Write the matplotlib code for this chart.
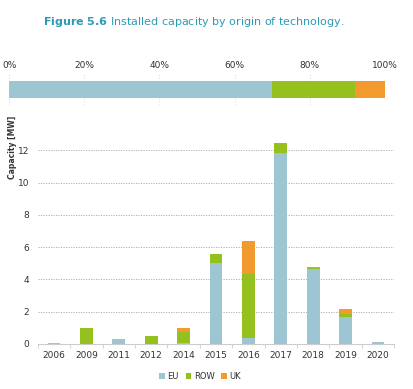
import numpy as np
import matplotlib.pyplot as plt

# installed capacity per year and origin (MW)
years = ["2006", "2009", "2011", "2012", "2014", "2015", "2016", "2017", "2018", "2019", "2020"]
eu = [0.05, 0.0, 0.3, 0.0, 0.05, 5.0, 0.35, 11.8, 4.65, 1.7, 0.15]
row = [0.0, 1.0, 0.0, 0.5, 0.7, 0.6, 4.0, 0.65, 0.05, 0.15, 0.0]
uk = [0.0, 0.0, 0.0, 0.0, 0.25, 0.0, 2.05, 0.0, 0.05, 0.3, 0.0]

# share of total by origin (%)
share_labels = ["EU", "ROW", "UK"]
share_values = [70, 22, 8]

colors = {"EU": "#9dc5d2", "ROW": "#95c11f", "UK": "#f39a2e"}
text_col = "#333333"

fig = plt.figure(figsize=(4.13, 3.89), dpi=100)

fig.text(0.47, 0.943, r"$\bf{Figure\ 5.6}$ Installed capacity by origin of technology.",
         ha="center", va="center", fontsize=8, color="#2e9bb5")

# top share bar
ax1 = fig.add_axes([0.022, 0.73, 0.91, 0.08])
left = 0
for lab, val in zip(share_labels, share_values):
    ax1.barh(0, val, left=left, height=0.55, color=colors[lab])
    left += val
ax1.set_xlim(0, 100)
ax1.set_ylim(-0.5, 0.5)
ax1.set_xticks([0, 20, 40, 60, 80, 100])
ax1.set_xticklabels(["0%", "20%", "40%", "60%", "80%", "100%"])
ax1.xaxis.tick_top()
ax1.tick_params(axis="x", length=0, labelsize=6.5, colors=text_col, pad=3)
ax1.set_yticks([])
for s in ax1.spines.values():
    s.set_visible(False)
ax1.grid(axis="x", color="#dddddd", linestyle=":", linewidth=0.8)
ax1.set_axisbelow(True)

# bottom stacked bars
ax = fig.add_axes([0.0915, 0.1157, 0.863, 0.581])
x = np.arange(len(years))
w = 0.4
eu_a = np.array(eu)
row_a = np.array(row)
uk_a = np.array(uk)
ax.bar(x, eu_a, w, color=colors["EU"], label="EU", zorder=3)
ax.bar(x, row_a, w, bottom=eu_a, color=colors["ROW"], label="ROW", zorder=3)
ax.bar(x, uk_a, w, bottom=eu_a + row_a, color=colors["UK"], label="UK", zorder=3)

ax.set_xlim(-0.5, len(years) - 0.5)
ax.set_ylim(0, 14)
ax.set_yticks([0, 2, 4, 6, 8, 10, 12])
ax.set_xticks(x)
ax.set_xticklabels(years)
ax.set_xticks(np.arange(-0.5, len(years)), minor=True)
ax.tick_params(axis="x", which="major", length=0, labelsize=6.5, colors=text_col, pad=5)
ax.tick_params(axis="x", which="minor", length=3, color="#cccccc")
ax.tick_params(axis="y", length=0, labelsize=6.5, colors=text_col, pad=6)
ax.grid(axis="y", color="#aaaaaa", linestyle=(0, (1.5, 1.5)), linewidth=0.6, zorder=0)
for s in ["top", "right", "left"]:
    ax.spines[s].set_visible(False)
ax.spines["bottom"].set_color("#cccccc")

fig.text(0.03, 0.62, "Capacity [MW]", rotation=90, ha="center", va="center",
         fontsize=5.5, fontweight="bold", color=text_col)

ax.legend(loc="upper center", bbox_to_anchor=(0.456, -0.09), ncol=3, frameon=False,
          fontsize=6, handlelength=0.7, handleheight=0.7, handletextpad=0.3,
          columnspacing=0.8, labelcolor=text_col)

fig.savefig("out.png", dpi=100, facecolor="white")
